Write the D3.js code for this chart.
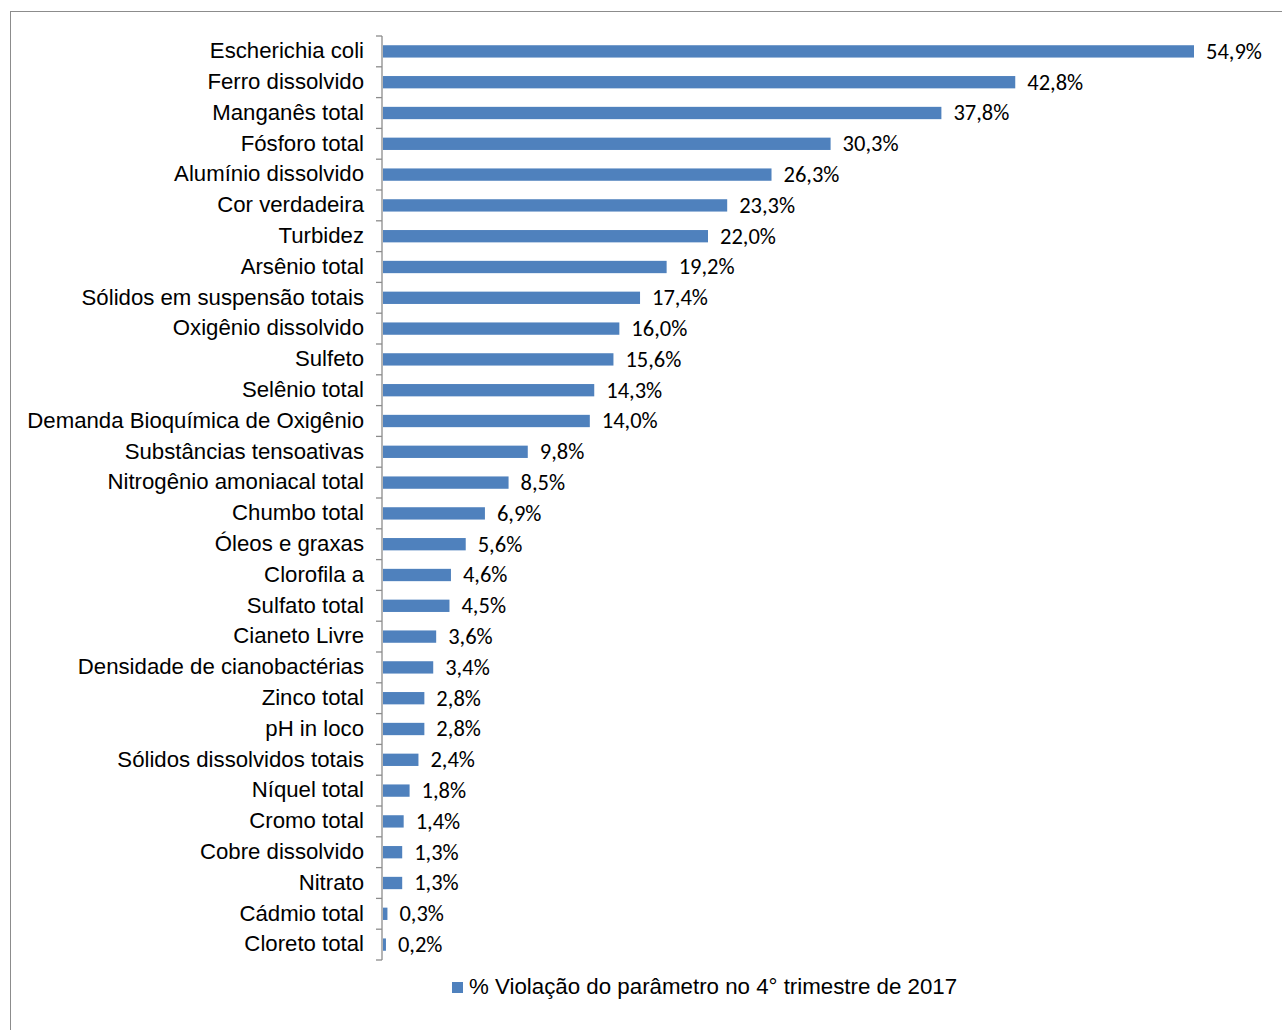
<!DOCTYPE html>
<html><head><meta charset="utf-8">
<script src="https://cdn.jsdelivr.net/npm/d3@7"></script>
<style>body{margin:0;background:#fff;} svg{display:block;}</style>
</head><body>
<script>
const categories = ["Escherichia coli","Ferro dissolvido","Manganês total","Fósforo total","Alumínio dissolvido","Cor verdadeira","Turbidez","Arsênio total","Sólidos em suspensão totais","Oxigênio dissolvido","Sulfeto","Selênio total","Demanda Bioquímica de Oxigênio","Substâncias tensoativas","Nitrogênio amoniacal total","Chumbo total","Óleos e graxas","Clorofila a","Sulfato total","Cianeto Livre","Densidade de cianobactérias","Zinco total","pH in loco","Sólidos dissolvidos totais","Níquel total","Cromo total","Cobre dissolvido","Nitrato","Cádmio total","Cloreto total"];
const values = [54.9,42.8,37.8,30.3,26.3,23.3,22.0,19.2,17.4,16.0,15.6,14.3,14.0,9.8,8.5,6.9,5.6,4.6,4.5,3.6,3.4,2.8,2.8,2.4,1.8,1.4,1.3,1.3,0.3,0.2];
const seriesName = "% Violação do parâmetro no 4° trimestre de 2017";

const W = 1282, H = 1030;
const svg = d3.select("body").append("svg").attr("width", W).attr("height", H);
svg.append("rect").attr("x",10.5).attr("y",11.5).attr("width",1290).attr("height",1040)
  .attr("fill","none").attr("stroke","#8c8c8c").attr("stroke-width",1);

const x0 = 382, y0 = 36, y1 = 960;
const x = d3.scaleLinear().domain([0, 54.9]).range([x0, 1193]);
const y = d3.scaleBand().domain(categories).range([y0, y1]).paddingInner(0.6).paddingOuter(0.3);
const yb = d3.scaleBand().domain(categories).range([y0, y1]);

const fmt = v => v.toFixed(1).replace(".", ",") + "%";

svg.selectAll("rect.bar").data(values).join("rect").attr("class","bar")
  .attr("x", x(0)+1).attr("y", (d,i)=> y(categories[i]))
  .attr("width", d => x(d)-x(0)).attr("height", y.bandwidth())
  .attr("fill", "#4f81bd");

svg.selectAll("text.val").data(values).join("text").attr("class","val")
  .attr("x", d => x(d) + 13).attr("y", (d,i)=> yb(categories[i]) + yb.bandwidth()/2 + 2)
  .attr("dominant-baseline","middle")
  .attr("font-family","Carlito, Lato, 'Open Sans', sans-serif").attr("font-size", 22.5).attr("fill","#000")
  .text(fmt);

// axis
const ax = svg.append("g").attr("stroke","#8c8c8c").attr("stroke-width",1.3);
ax.append("line").attr("x1",x0).attr("x2",x0).attr("y1",y0).attr("y2",y1);
const bounds = categories.map(c => yb(c)).concat([y1]);
ax.selectAll("line.t").data(bounds).join("line").attr("class","t")
  .attr("x1",x0-6).attr("x2",x0).attr("y1",d=>d).attr("y2",d=>d);

svg.selectAll("text.cat").data(categories).join("text").attr("class","cat")
  .attr("x", x0 - 18).attr("y", c => yb(c) + yb.bandwidth()/2 + 1)
  .attr("dominant-baseline","middle").attr("text-anchor","end")
  .attr("font-family","'Liberation Sans', Arial, sans-serif").attr("font-size", 22.2).attr("fill","#000")
  .text(c => c);

// legend
const lg = svg.append("g");
lg.append("rect").attr("x",452).attr("y",982).attr("width",11).attr("height",11).attr("fill","#4f81bd");
lg.append("text").attr("x",469).attr("y",988).attr("dominant-baseline","middle")
  .attr("font-family","'Liberation Sans', Arial, sans-serif").attr("font-size",22.3).attr("fill","#000")
  .text(seriesName);
</script>
</body></html>
